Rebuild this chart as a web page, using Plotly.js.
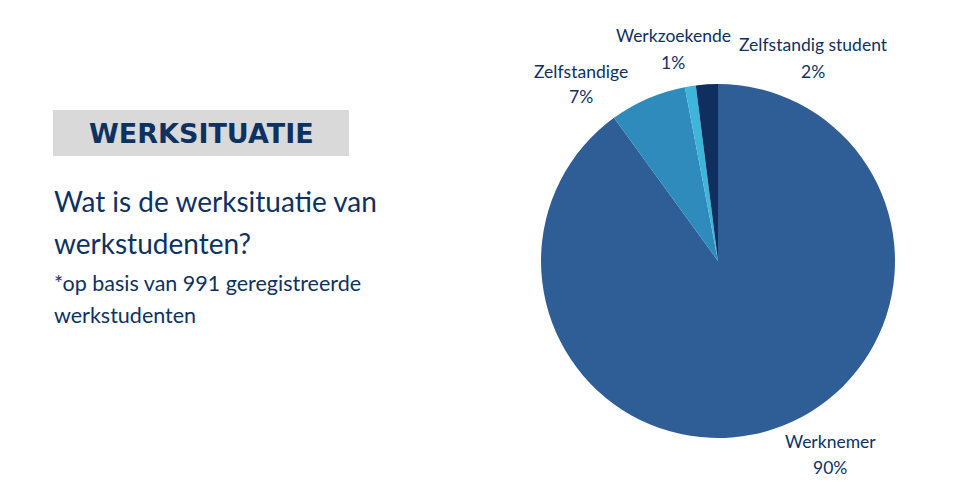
<!DOCTYPE html>
<html>
<head>
<meta charset="utf-8">
<script src="https://cdn.plot.ly/plotly-3.0.1.min.js"></script>
<style>
	html, body { margin: 0; padding: 0; background: #fff; }
	#chart { width: 963px; height: 500px; }
</style>
</head>
<body>
<div id="chart"></div>
<script>
// data
var labels = ['Werknemer', 'Zelfstandige', 'Werkzoekende', 'Zelfstandig student'];
var values = [90, 7, 1, 2];
var colors = ['#2f5e97', '#2e8bbb', '#3db6d9', '#0e2f5f'];

// where each slice label sits (pixels from top-left), like the original best-fit labels
var labelPos = [[830, 441], [581, 71], [673, 36], [813, 45]];

var navy = '#0e3260';
var textFont = 'Lato, "Open Sans", sans-serif';

function px(x) { return x / 963; }
function py(y) { return 1 - y / 500; }

function drawChart() {
	var trace = {
		type: 'pie',
		labels: labels,
		values: values,
		sort: false,
		direction: 'clockwise',
		rotation: 0,
		marker: { colors: colors, line: { width: 0 } },
		textinfo: 'none',
		showlegend: false,
		hoverinfo: 'skip',
		domain: { x: [px(541), px(895)], y: [0.124, 0.832] }
	};

	var total = values.reduce(function(a, b) { return a + b; }, 0);

	var annotations = [
		{ text: 'WERKSITUATIE', x: px(201), y: py(133), xref: 'paper', yref: 'paper',
			xanchor: 'center', yanchor: 'middle', showarrow: false,
			font: { family: '"DejaVu Sans", sans-serif', size: 27, color: navy, weight: 700 } },
		{ text: 'Wat is de werksituatie van', x: px(52), y: py(201), xref: 'paper', yref: 'paper',
			xanchor: 'left', yanchor: 'middle', showarrow: false,
			font: { family: textFont, size: 28, color: navy } },
		{ text: 'werkstudenten?', x: px(52), y: py(243), xref: 'paper', yref: 'paper',
			xanchor: 'left', yanchor: 'middle', showarrow: false,
			font: { family: textFont, size: 28, color: navy } },
		{ text: '*op basis van 991 geregistreerde', x: px(52), y: py(283), xref: 'paper', yref: 'paper',
			xanchor: 'left', yanchor: 'middle', showarrow: false,
			font: { family: textFont, size: 21.5, color: navy } },
		{ text: 'werkstudenten', x: px(52), y: py(315), xref: 'paper', yref: 'paper',
			xanchor: 'left', yanchor: 'middle', showarrow: false,
			font: { family: textFont, size: 21.5, color: navy } }
	];

	for (var i = 0; i < labels.length; i++) {
		var pct = Math.round(values[i] / total * 100) + '%';
		annotations.push({ text: labels[i], x: px(labelPos[i][0]), y: py(labelPos[i][1]),
			xref: 'paper', yref: 'paper', xanchor: 'center', yanchor: 'middle', showarrow: false,
			font: { family: textFont, size: 17.5, color: navy } });
		annotations.push({ text: pct, x: px(labelPos[i][0]), y: py(labelPos[i][1] + 26),
			xref: 'paper', yref: 'paper', xanchor: 'center', yanchor: 'middle', showarrow: false,
			font: { family: textFont, size: 17.5, color: navy } });
	}

	var layout = {
		width: 963,
		height: 500,
		margin: { l: 0, r: 0, t: 0, b: 0 },
		paper_bgcolor: '#fff',
		showlegend: false,
		shapes: [{
			type: 'rect', xref: 'paper', yref: 'paper',
			x0: px(53), x1: px(349), y0: py(156), y1: py(110),
			fillcolor: '#d9d9d9', line: { width: 0 }, layer: 'below'
		}],
		annotations: annotations
	};

	Plotly.newPlot('chart', [trace], layout, { staticPlot: true, displayModeBar: false });
}

window.onload = drawChart;
</script>
</body>
</html>
